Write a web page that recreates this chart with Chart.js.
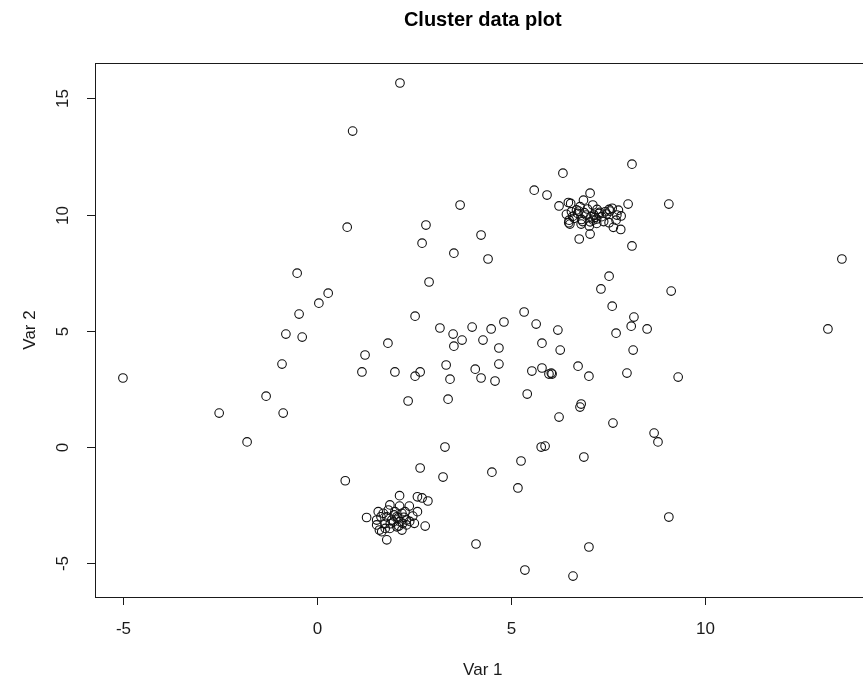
<!DOCTYPE html>
<html>
<head>
<meta charset="utf-8">
<title>Cluster data plot</title>
<script src="https://cdn.jsdelivr.net/npm/chart.js@4.4.1/dist/chart.umd.min.js"></script>
<style>
  html, body { margin: 0; padding: 0; background: #fff; overflow: hidden; }
  #wrap { width: 900px; height: 684px; }
</style>
</head>
<body>
<div id="wrap"><canvas id="chart" width="900" height="684"></canvas></div>
<script>
// Scattered points (Var 1, Var 2)
const scatterVar1 = [
  -4.99, -2.51, -1.79, -1.30, -0.86, -0.89, -0.79, -0.50, -0.45, -0.37,
  0.06, 0.30, 0.74, 0.79, 0.93, 1.17, 1.25, 1.84, 2.02, 2.15,
  2.36, 2.54, 2.54, 2.67, 2.72, 2.82, 2.90, 3.18, 3.31, 3.34,
  3.39, 3.44, 3.52, 3.54, 3.54, 3.70, 3.75, 4.01, 4.09, 4.24,
  4.24, 4.29, 4.42, 4.50, 4.60, 4.70, 4.70, 4.83, 5.35, 5.43,
  5.55, 5.61, 5.66, 5.79, 5.81, 5.81, 5.89, 5.94, 5.99, 6.07,
  6.05, 6.22, 6.25, 6.28, 6.35, 6.74, 6.79, 6.82, 7.02, 7.33,
  7.54, 7.62, 7.64, 7.72, 8.00, 8.11, 8.16, 8.18, 8.52, 8.70,
  8.80, 9.14, 9.32, 13.18, 13.54, 6.77, 7.05, 8.13, 8.13, 9.08,
  8.03, 7.05, 6.25, 6.89, 5.27, 4.52, 3.26, 5.19, 2.67, 2.72,
  2.87, 2.80, 9.08, 4.11, 7.02, 5.37, 6.61, 2.14, 2.60, 1.29,
  1.81
];
const scatterVar2 = [
  2.97, 1.46, 0.22, 2.19, 1.46, 3.57, 4.86, 7.48, 5.72, 4.73,
  6.19, 6.62, -1.45, 9.46, 13.59, 3.23, 3.96, 4.47, 3.23, 15.66,
  1.98, 5.63, 3.05, 3.23, 8.77, 9.55, 7.10, 5.12, 0.00, 3.53,
  2.06, 2.92, 4.86, 8.34, 4.34, 10.41, 4.60, 5.16, 3.35, 9.12,
  2.97, 4.60, 8.09, 5.08, 2.84, 4.26, 3.57, 5.38, 5.81, 2.28,
  3.27, 11.05, 5.29, 0.00, 4.47, 3.40, 0.04, 10.84, 3.14, 3.14,
  3.18, 5.03, 1.29, 4.17, 11.78, 3.48, 1.72, 1.85, 3.05, 6.80,
  7.35, 6.06, 1.03, 4.90, 3.18, 5.20, 4.17, 5.59, 5.08, 0.60,
  0.22, 6.71, 3.01, 5.08, 8.09, 8.95, 9.16, 8.65, 12.17, 10.45,
  10.45, 10.92, 10.37, -0.43, -0.60, -1.08, -1.29, -1.76, -0.90, -2.19,
  -2.32, -3.40, -3.01, -4.17, -4.30, -5.29, -5.55, -2.09, -2.14, -3.03,
  -3.99
];

// Dense cluster, upper right
const upperVar1 = [
  6.49, 6.55, 6.79, 6.88, 6.98, 6.76, 6.57, 6.44, 6.51, 6.50,
  6.53, 6.83, 6.82, 7.05, 7.03, 7.22, 7.15, 7.12, 7.23, 7.28,
  7.35, 7.22, 7.13, 7.54, 7.56, 7.62, 7.74, 7.72, 7.85, 7.84,
  7.65, 7.54, 7.44, 7.78, 6.73, 6.95, 7.07, 6.64, 6.60, 6.70,
  6.90, 7.18, 7.40, 7.48, 6.86, 7.30
];
const upperVar2 = [
  10.52, 10.48, 10.34, 10.62, 10.24, 10.15, 10.12, 10.01, 9.76, 9.65,
  9.59, 9.79, 9.59, 9.69, 9.51, 9.62, 9.98, 10.41, 10.22, 10.05,
  9.91, 9.81, 9.76, 10.22, 10.15, 10.27, 9.98, 9.76, 9.94, 9.36,
  9.45, 9.65, 10.12, 10.19, 10.05, 9.98, 9.91, 9.84, 9.92, 10.20,
  10.08, 9.88, 9.70, 10.02, 9.70, 10.10
];

// Dense cluster, lower left
const lowerVar1 = [
  1.89, 2.14, 2.39, 2.60, 2.52, 2.48, 1.59, 1.55, 1.62, 1.68,
  1.77, 1.89, 2.07, 2.20, 2.22, 2.32, 2.07, 1.94, 1.81, 1.72,
  1.85, 2.02, 2.20, 2.28, 1.77, 2.15, 2.32, 1.55, 1.98, 2.10,
  2.25, 1.90, 2.40, 1.66, 2.00, 2.12
];
const lowerVar2 = [
  -2.49, -2.54, -2.54, -2.78, -3.28, -2.97, -2.78, -3.14, -3.57, -3.64,
  -3.50, -3.50, -3.43, -3.57, -3.28, -3.14, -3.00, -3.14, -3.00, -2.85,
  -2.71, -2.78, -2.85, -2.78, -3.28, -3.21, -3.35, -3.35, -3.22, -3.05,
  -3.02, -3.30, -3.20, -3.00, -2.92, -3.40
];

const xTickValues = [-5, 0, 5, 10];
const yTickValues = [-5, 0, 5, 10, 15];

const chartTitle = 'Cluster data plot';
const xTitle = 'Var 1';
const yTitle = 'Var 2';

const allVar1 = scatterVar1.concat(upperVar1, lowerVar1);
const allVar2 = scatterVar2.concat(upperVar2, lowerVar2);
const points = allVar1.map((v, i) => ({ x: v, y: allVar2[i] }));

const FONT = '"Liberation Sans", Arial, sans-serif';
const INK = '#1a1a1a';

// R-style box, ticks and labels drawn from the chart's own scales
const rAxesPlugin = {
  id: 'rAxes',
  afterDraw(chart) {
    const { ctx, chartArea: area, scales } = chart;
    const sx = scales.x;
    const sy = scales.y;
    const tick = 8;

    ctx.save();
    ctx.strokeStyle = INK;
    ctx.lineWidth = 1;
    ctx.strokeRect(
      Math.round(area.left) + 0.5,
      Math.round(area.top) + 0.5,
      Math.round(area.right - area.left),
      Math.round(area.bottom - area.top)
    );

    ctx.fillStyle = INK;
    ctx.font = `17px ${FONT}`;
    ctx.textAlign = 'center';
    ctx.textBaseline = 'middle';

    // x axis
    xTickValues.forEach((v) => {
      const px = Math.round(sx.getPixelForValue(v)) + 0.5;
      ctx.beginPath();
      ctx.moveTo(px, area.bottom);
      ctx.lineTo(px, area.bottom + tick);
      ctx.stroke();
      ctx.fillText(String(v), px, area.bottom + 32);
    });

    // y axis, labels turned like R does
    yTickValues.forEach((v) => {
      const py = Math.round(sy.getPixelForValue(v)) + 0.5;
      ctx.beginPath();
      ctx.moveTo(area.left - tick, py);
      ctx.lineTo(area.left, py);
      ctx.stroke();
      ctx.save();
      ctx.translate(area.left - 32, py);
      ctx.rotate(-Math.PI / 2);
      ctx.fillText(String(v), 0, 0);
      ctx.restore();
    });

    const midX = (area.left + area.right) / 2;
    const midY = (area.top + area.bottom) / 2;

    ctx.fillText(xTitle, midX, area.bottom + 73);

    ctx.save();
    ctx.translate(30, midY);
    ctx.rotate(-Math.PI / 2);
    ctx.fillText(yTitle, 0, 0);
    ctx.restore();

    ctx.font = `bold 20px ${FONT}`;
    ctx.fillStyle = '#000';
    ctx.fillText(chartTitle, midX, 20);

    ctx.restore();
  },
};

new Chart(document.getElementById('chart').getContext('2d'), {
  type: 'scatter',
  data: {
    datasets: [
      {
        data: points,
        pointStyle: 'circle',
        pointRadius: 4.3,
        pointHoverRadius: 4.3,
        pointBorderWidth: 1.1,
        pointBorderColor: '#111',
        pointBackgroundColor: 'rgba(0,0,0,0)',
      },
    ],
  },
  options: {
    responsive: false,
    animation: false,
    events: [],
    layout: { padding: { top: 63, right: 29.4, left: 0, bottom: 0 } },
    plugins: {
      legend: { display: false },
      tooltip: { enabled: false },
      title: { display: false },
    },
    scales: {
      x: {
        type: 'linear',
        min: -5.71,
        max: 14.28,
        ticks: { display: false },
        grid: { display: false },
        border: { display: false },
        afterFit(scale) {
          // eslint-disable-next-line no-param-reassign
          scale.height = 87;
        },
      },
      y: {
        type: 'linear',
        min: -6.45,
        max: 16.52,
        ticks: { display: false },
        grid: { display: false },
        border: { display: false },
        afterFit(scale) {
          // eslint-disable-next-line no-param-reassign
          scale.width = 95;
        },
      },
    },
  },
  plugins: [rAxesPlugin],
});
</script>
</body>
</html>
